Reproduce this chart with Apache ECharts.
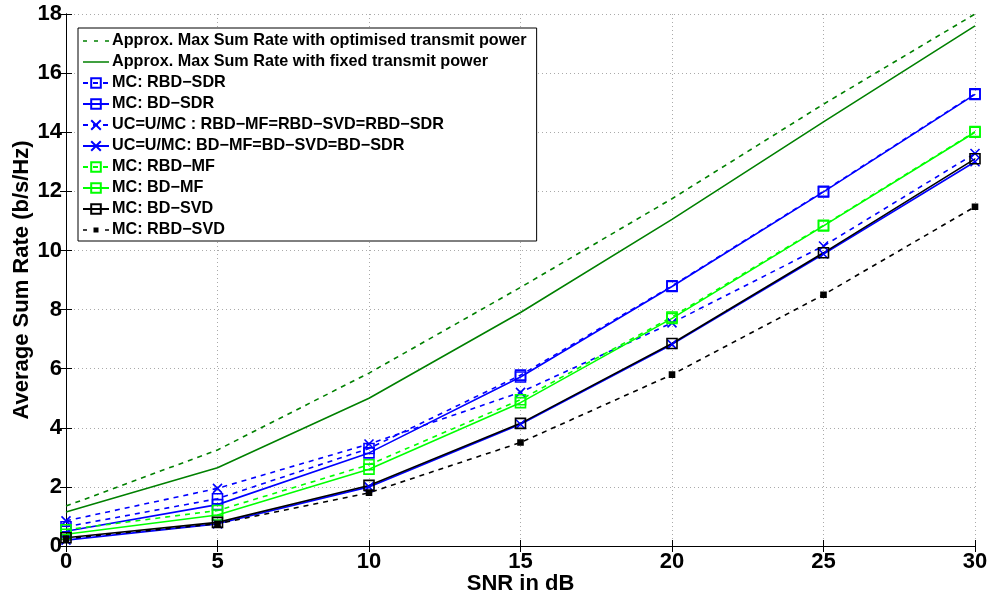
<!DOCTYPE html>
<html><head><meta charset="utf-8">
<script src="https://cdn.jsdelivr.net/npm/echarts@6/dist/echarts.min.js"></script>
<style>html,body{margin:0;padding:0;background:#fff}#c{width:990px;height:599px}</style>
</head><body><div id="c"></div>
<script>
const snr = [0, 5, 10, 15, 20, 25, 30];
const optPower   = [1.35, 3.25, 5.85, 8.75, 11.75, 14.95, 18.0];
const fixedPower = [1.15, 2.65, 5.0, 7.9, 11.05, 14.35, 17.6];
const mcRbdSdr   = [0.65, 1.6, 3.3, 5.78, 8.8, 12.0, 15.3];
const mcBdSdr    = [0.5, 1.4, 3.15, 5.72, 8.78, 11.98, 15.28];
const ucRbd      = [0.85, 1.95, 3.45, 5.2, 7.55, 10.15, 13.28];
const ucBd       = [0.2, 0.75, 2.0, 4.12, 6.82, 9.88, 13.0];
const mcRbdMf    = [0.55, 1.2, 2.75, 4.95, 7.75, 10.85, 14.02];
const mcBdMf     = [0.4, 1.05, 2.6, 4.85, 7.7, 10.83, 14.0];
const mcBdSvd    = [0.28, 0.8, 2.05, 4.15, 6.85, 9.92, 13.1];
const mcRbdSvd   = [0.25, 0.75, 1.8, 3.5, 5.8, 8.5, 11.48];
const xTicks = [0, 5, 10, 15, 20, 25, 30];
const yTicks = [0, 2, 4, 6, 8, 10, 12, 14, 16, 18];

const names = [
 'Approx. Max Sum Rate with optimised transmit power',
 'Approx. Max Sum Rate with fixed transmit power',
 'MC: RBD\u2212SDR',
 'MC: BD\u2212SDR',
 'UC=U/MC : RBD\u2212MF=RBD\u2212SVD=RBD\u2212SDR',
 'UC=U/MC: BD\u2212MF=BD\u2212SVD=BD\u2212SDR',
 'MC: RBD\u2212MF',
 'MC: BD\u2212MF',
 'MC: BD\u2212SVD',
 'MC: RBD\u2212SVD'
];
const cross = 'path://M0,0L10,10M10,0L0,10';
function mk(name, data, color, dashed, symbol, size, filled) {
  return {
    name, type: 'line', data: snr.map((x, i) => [x, data[i]]),
    symbol: symbol || 'none', symbolSize: size || 10,
    showSymbol: !!symbol,
    lineStyle: { color, width: 1.6, type: dashed ? [5, 5] : 'solid' },
    itemStyle: { color: filled ? color : 'rgba(0,0,0,0)', borderColor: color, borderWidth: 1.6 },
    emphasis: { disabled: true }, animation: false
  };
}
const dg = '#008000', bl = '#0000ff', gr = '#00ff00', bk = '#000000';
const series = [
  mk(names[0], optPower, dg, true),
  mk(names[1], fixedPower, dg, false),
  mk(names[2], mcRbdSdr, bl, true, 'rect', 10),
  mk(names[3], mcBdSdr, bl, false, 'rect', 10),
  mk(names[4], ucRbd, bl, true, cross, 9),
  mk(names[5], ucBd, bl, false, cross, 9),
  mk(names[6], mcRbdMf, gr, true, 'rect', 10),
  mk(names[7], mcBdMf, gr, false, 'rect', 10),
  mk(names[8], mcBdSvd, bk, false, 'rect', 10),
  mk(names[9], mcRbdSvd, bk, true, 'rect', 5, true)
];
const legendData = names.map(n => ({ name: n }));
legendData[0].icon = 'path://M0,0h4v1.5h-4z M11,0h4v1.5h-4z M22,0h4v1.5h-4z';
legendData[0].itemStyle = { color: dg, borderWidth: 0 };
legendData[1].icon = 'path://M0,0h26v1.5h-26z';
legendData[1].itemStyle = { color: dg, borderWidth: 0 };
legendData[9].icon = 'path://M0,2h4v1.5h-4z M22,2h4v1.5h-4z M10.5,0.25h5v5h-5z';
legendData[9].itemStyle = { color: bk, borderWidth: 0 };

const font = 'Liberation Sans, Arial, sans-serif';
const chart = echarts.init(document.getElementById('c'));
const axisCommon = {
  axisLine: { show: true, lineStyle: { color: '#000', width: 1 } },
  axisTick: { show: true, inside: true, length: 6, lineStyle: { color: '#000' } },
};
chart.setOption({
  animation: false,
  backgroundColor: '#fff',
  grid: { left: 66, right: 15, top: 14, bottom: 53, show: false, containLabel: false, outerBoundsMode: 'none' },
  legend: {
    orient: 'vertical', left: 78, top: 28,
    data: legendData,
    backgroundColor: '#fff', borderColor: '#000', borderWidth: 1,
    padding: [5, 10, 3, 4],
    itemWidth: 26, itemHeight: 12, itemGap: 5,
    textStyle: { fontFamily: font, fontWeight: 'bold', fontSize: 16.2, color: '#000', padding: [0, 0, 0, -2] },
    selectedMode: false
  },
  xAxis: [
    Object.assign({ type: 'value', min: 0, max: 30, interval: 5, position: 'bottom',
      name: 'SNR in dB', nameLocation: 'middle', nameGap: 27, nameMoveOverlap: false,
      nameTextStyle: { fontFamily: font, fontWeight: 'bold', fontSize: 22, color: '#000' },
      axisLabel: { fontFamily: font, fontWeight: 'bold', fontSize: 22, color: '#000', margin: 5 },
      splitLine: { show: true, lineStyle: { color: '#aaa', type: [1, 3] } } }, axisCommon),
    Object.assign({ type: 'value', min: 0, max: 30, interval: 5, position: 'top',
      axisLabel: { show: false }, splitLine: { show: false } }, axisCommon)
  ],
  yAxis: [
    Object.assign({ type: 'value', min: 0, max: 18, interval: 2, position: 'left',
      name: 'Average Sum Rate (b/s/Hz)', nameLocation: 'middle', nameGap: 33, nameMoveOverlap: false,
      nameTextStyle: { fontFamily: font, fontWeight: 'bold', fontSize: 22, color: '#000' },
      axisLabel: { fontFamily: font, fontWeight: 'bold', fontSize: 22, color: '#000', margin: 4 },
      splitLine: { show: true, lineStyle: { color: '#aaa', type: [1, 3] } } }, axisCommon),
    Object.assign({ type: 'value', min: 0, max: 18, interval: 2, position: 'right',
      axisLabel: { show: false }, splitLine: { show: false } }, axisCommon)
  ],
  series
});
</script></body></html>
